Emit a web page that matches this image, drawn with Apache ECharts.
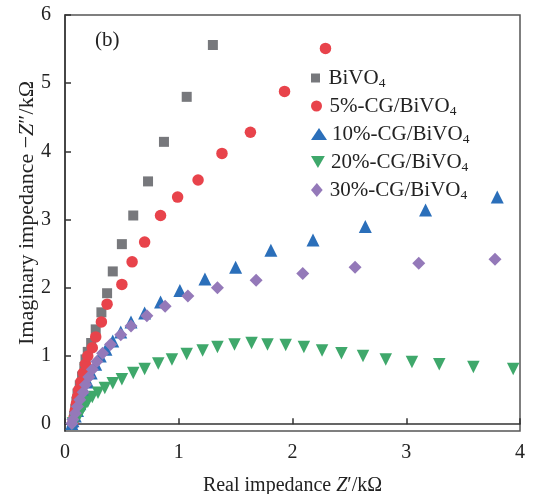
<!DOCTYPE html>
<html>
<head>
<meta charset="utf-8">
<script src="https://cdn.jsdelivr.net/npm/echarts@6/dist/echarts.min.js"></script>
<style>html,body{margin:0;padding:0;background:#fff;}#c{width:538px;height:494px;}</style>
</head>
<body>
<div id="c"></div>
<script>
var seriesNames = ['BiVO4', '5%-CG/BiVO4', '10%-CG/BiVO4', '20%-CG/BiVO4', '30%-CG/BiVO4'];
var xTicks = [0, 1, 2, 3, 4];
var yTicks = [0, 1, 2, 3, 4, 5, 6];

var bivo4X = [0.07,0.08,0.09,0.10,0.11,0.13,0.15,0.17,0.18,0.20,0.23,0.27,0.32,0.37,0.42,0.50,0.60,0.73,0.87,1.07,1.30];
var bivo4Y = [0.02,0.12,0.22,0.33,0.45,0.57,0.70,0.84,0.95,1.06,1.19,1.39,1.64,1.92,2.24,2.64,3.06,3.56,4.14,4.80,5.56];

var cg5X = [0.07,0.08,0.09,0.10,0.11,0.12,0.14,0.16,0.18,0.20,0.24,0.27,0.32,0.37,0.50,0.59,0.70,0.84,0.99,1.17,1.38,1.63,1.93,2.29];
var cg5Y = [0.02,0.10,0.20,0.30,0.40,0.50,0.62,0.75,0.88,1.00,1.12,1.28,1.50,1.76,2.05,2.38,2.67,3.06,3.33,3.58,3.97,4.28,4.88,5.51];

var cg10X = [0.06,0.07,0.09,0.11,0.13,0.15,0.17,0.20,0.23,0.27,0.31,0.36,0.42,0.49,0.58,0.70,0.84,1.01,1.23,1.50,1.81,2.18,2.64,3.17,3.80];
var cg10Y = [0.01,0.05,0.12,0.20,0.30,0.40,0.50,0.62,0.75,0.88,1.00,1.10,1.22,1.35,1.50,1.63,1.79,1.96,2.13,2.30,2.55,2.70,2.90,3.14,3.33];

var cg20X = [0.07,0.09,0.11,0.13,0.15,0.17,0.20,0.24,0.29,0.35,0.42,0.50,0.60,0.70,0.82,0.94,1.07,1.21,1.34,1.49,1.64,1.78,1.94,2.10,2.26,2.43,2.62,2.82,3.05,3.29,3.59,3.94];
var cg20Y = [0.01,0.05,0.10,0.15,0.21,0.27,0.33,0.40,0.46,0.53,0.60,0.66,0.75,0.81,0.89,0.95,1.03,1.08,1.13,1.17,1.19,1.17,1.16,1.13,1.08,1.04,1.00,0.95,0.91,0.88,0.84,0.81];

var cg30X = [0.06,0.07,0.09,0.11,0.13,0.16,0.18,0.21,0.24,0.28,0.33,0.40,0.49,0.58,0.72,0.88,1.08,1.34,1.68,2.09,2.55,3.11,3.78];
var cg30Y = [0.01,0.07,0.16,0.26,0.36,0.47,0.58,0.69,0.80,0.92,1.04,1.17,1.31,1.44,1.59,1.73,1.88,2.00,2.11,2.21,2.30,2.36,2.42];

function zip(xs, ys) { return xs.map(function (x, i) { return [x, ys[i]]; }); }

var FONT = '"Liberation Serif", "DejaVu Serif", serif';
var TXT = '#222';
var chart = echarts.init(document.getElementById('c'), null, {renderer: 'canvas'});

var SQUARE = 'path://M0,0 L10,0 L10,10 L0,10 Z';
var INV_TRI = 'path://M0,0 L10,0 L5,8.66 Z';
var DIAMOND = 'path://M5,0 L10,6 L5,12 L0,6 Z';
var styles = [
  {symbol: 'rect', size: 10, color: '#77787c', rotate: 0, icon: SQUARE, iconSize: 9},
  {symbol: 'circle', size: 11.5, color: '#e8434b', rotate: 0, icon: 'circle', iconSize: 11},
  {symbol: 'triangle', size: 13, color: '#2b6fba', rotate: 0, icon: 'triangle', iconSize: 12},
  {symbol: 'triangle', size: 12.5, color: '#3fa86b', rotate: 180, icon: INV_TRI, iconSize: 12},
  {symbol: 'diamond', size: 13, color: '#9479b9', rotate: 0, icon: DIAMOND, iconSize: 14}
];
var dataSets = [zip(bivo4X, bivo4Y), zip(cg5X, cg5Y), zip(cg10X, cg10Y), zip(cg20X, cg20Y), zip(cg30X, cg30Y)];

var series = seriesNames.map(function (name, i) {
  var s = styles[i];
  return {
    name: name,
    type: 'scatter',
    data: dataSets[i],
    symbol: s.symbol,
    symbolSize: s.size,
    symbolRotate: s.rotate,
    itemStyle: {color: s.color, opacity: 1},
    emphasis: {disabled: true},
    clip: false
  };
});

var legendCenterX = 319;
var legendTop0 = 67, legendPitch = 28;
var ICON_W = 16;
var legends = seriesNames.map(function (name, i) {
  var s = styles[i];
  return {
    orient: 'vertical',
    left: legendCenterX - ICON_W / 2,
    top: legendTop0 + i * legendPitch,
    itemWidth: ICON_W,
    itemHeight: s.iconSize,
    symbolKeepAspect: true,
    selectedMode: false,
    padding: 0,
    data: [{name: name, icon: s.icon, itemStyle: {color: s.color}}],
    formatter: function (n) { return n.replace(/4$/, '{s|4}'); },
    textStyle: {
      fontFamily: FONT, fontSize: 21, color: TXT, lineHeight: 22,
      rich: {s: {fontFamily: FONT, fontSize: 13.5, color: TXT, padding: [10, 0, 0, 0]}}
    }
  };
});

chart.setOption({
  animation: false,
  backgroundColor: '#fff',
  textStyle: {fontFamily: FONT},
  grid: {left: 65, right: 18, top: 15, bottom: 63, outerBoundsMode: 'none', containLabel: false,
    show: true, borderColor: '#555', borderWidth: 1.5, backgroundColor: 'transparent'},
  legend: legends,
  graphic: [{
    type: 'text', left: 95, top: 30,
    style: {text: '(b)', font: '21px ' + FONT, fill: TXT}
  }],
  xAxis: {
    type: 'value', min: 0, max: 4, interval: 1,
    name: 'Real impedance {i|Z}\u2032/k\u03A9',
    nameLocation: 'middle', nameGap: 45, nameMoveOverlap: false,
    nameTextStyle: {fontFamily: FONT, fontSize: 20, color: TXT,
      rich: {i: {fontFamily: FONT, fontSize: 20, fontStyle: 'italic', color: TXT}}},
    axisLine: {show: true, lineStyle: {color: '#333', width: 1.5}},
    axisTick: {show: true, inside: true, length: 6, lineStyle: {color: '#333', width: 1.5}},
    axisLabel: {fontFamily: FONT, fontSize: 20, color: TXT, margin: 12,
      formatter: function (v) { return xTicks.indexOf(v) >= 0 ? String(v) : ''; }},
    splitLine: {show: false}
  },
  yAxis: {
    type: 'value', min: -0.1, max: 6,
    name: 'Imaginary impedance \u2212{i|Z}\u2033/k\u03A9',
    nameLocation: 'middle', nameGap: 27, nameMoveOverlap: false,
    nameTextStyle: {fontFamily: FONT, fontSize: 22, color: TXT, padding: [0, 0, 0, 20],
      rich: {i: {fontFamily: FONT, fontSize: 22, fontStyle: 'italic', color: TXT}}},
    axisLine: {show: true, lineStyle: {color: '#333', width: 1.5}},
    axisTick: {show: true, inside: true, length: 6, customValues: yTicks, lineStyle: {color: '#333', width: 1.5}},
    axisLabel: {fontFamily: FONT, fontSize: 20, color: TXT, margin: 14, customValues: yTicks},
    splitLine: {show: false}
  },
  series: series
});
</script>
</body>
</html>
